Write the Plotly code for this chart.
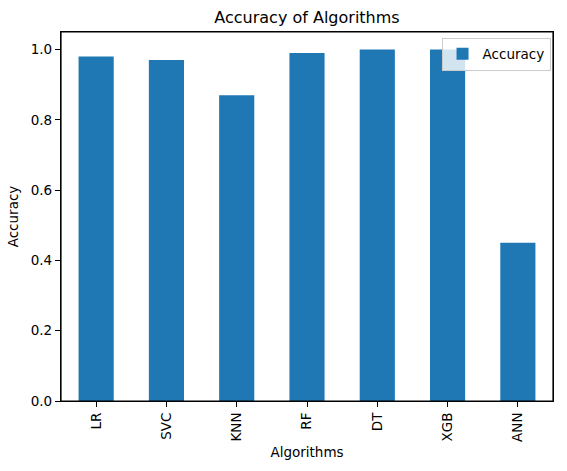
import plotly.graph_objects as go

algorithms = ["LR", "SVC", "KNN", "RF", "DT", "XGB", "ANN"]
accuracy = [0.98, 0.97, 0.87, 0.99, 1.0, 1.0, 0.45]
y_ticks = [0.0, 0.2, 0.4, 0.6, 0.8, 1.0]
y_tick_labels = ["0.0", "0.2", "0.4", "0.6", "0.8", "1.0"]

fig = go.Figure()
fig.add_trace(go.Bar(
    x=list(range(len(algorithms))), y=accuracy, name="Accuracy",
    marker=dict(color="#1f77b4", line=dict(width=0)), width=0.5,
    showlegend=True,
))

font = "DejaVu Sans"
fig.update_layout(
    width=567, height=471,
    margin=dict(l=61, r=14, t=32, b=70),
    paper_bgcolor="white", plot_bgcolor="white",
    font=dict(family=font, size=13.5, color="black"),
    title=dict(text="Accuracy of Algorithms", x=0.5, xref="paper", xanchor="center",
               y=1 - 17/471, yanchor="middle", font=dict(size=16, family=font)),
    xaxis=dict(
        range=[-0.5, 6.5], tickmode="array",
        tickvals=list(range(len(algorithms))), ticktext=algorithms,
        tickangle=-90, ticks="outside", ticklen=5, tickcolor="black",
        showline=True, linecolor="black", linewidth=1.2, mirror=True,
        showgrid=False, zeroline=False,
        title=dict(text="Algorithms", font=dict(size=13.5), standoff=6),
    ),
    yaxis=dict(
        range=[0, 1.05], tickmode="array", tickvals=y_ticks, ticktext=y_tick_labels,
        ticks="outside", ticklen=5, tickcolor="black",
        showline=True, linecolor="black", linewidth=1.2, mirror=True,
        showgrid=False, zeroline=False,
        title=dict(text="Accuracy", font=dict(size=13.5), standoff=8),
    ),
    legend=dict(x=0.995, xanchor="right", y=0.985, yanchor="top",
                bgcolor="rgba(255,255,255,0.8)", bordercolor="#cccccc", borderwidth=1,
                font=dict(size=13.5)),
    bargap=0.5,
    shapes=[dict(type="rect", xref="x domain", yref="y domain", x0=0, x1=1, y0=0, y1=1,
                 line=dict(color="black", width=1.2), fillcolor="rgba(0,0,0,0)", layer="above")],
)

fig.write_html("out.html", config={"displayModeBar": False},
               post_script="document.body.style.margin='0';document.body.style.overflow='hidden';")
